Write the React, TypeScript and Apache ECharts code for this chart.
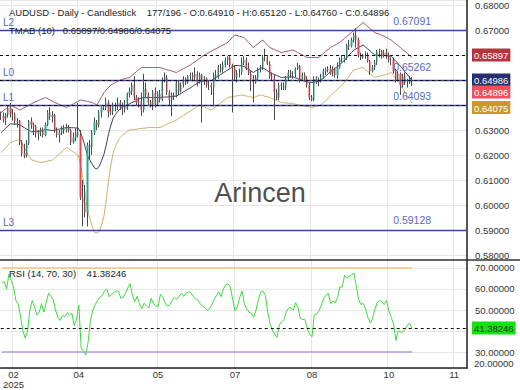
import React, { useEffect, useRef } from 'react';
import * as echarts from 'echarts';

// ---------- data ----------
const firstDate = '2025-02-17';
const totalSlots = 200; // 177 bars + empty future slots

// [open, close, low, high]
const candles: number[][] = [
  [.6355,.6356,.6340,.6374],[.6356,.6345,.6330,.6370],[.6345,.6362,.6320,.6368],[.6362,.6389,.6350,.6396],[.6389,.6362,.6350,.6408],
  [.6362,.6362,.6338,.6385],[.6362,.6334,.6320,.6370],[.6334,.6336,.6310,.6348],[.6336,.6250,.6240,.6340],[.6250,.6207,.6195,.6260],
  [.6207,.6199,.6187,.6245],[.6199,.6246,.6190,.6260],[.6246,.6335,.6240,.6340],[.6335,.6320,.6305,.6350],[.6320,.6315,.6280,.6330],
  [.6315,.6285,.6270,.6320],[.6285,.6290,.6260,.6300],[.6290,.6300,.6275,.6310],[.6300,.6280,.6270,.6310],[.6280,.6320,.6275,.6330],
  [.6320,.6370,.6315,.6380],[.6370,.6352,.6340,.6391],[.6352,.6360,.6330,.6375],[.6360,.6300,.6290,.6365],[.6300,.6280,.6270,.6310],
  [.6280,.6290,.6250,.6300],[.6290,.6305,.6280,.6315],[.6305,.6300,.6285,.6320],[.6300,.6310,.6290,.6325],[.6310,.6300,.6290,.6320],
  [.6300,.6250,.6240,.6305],[.6250,.6270,.6245,.6290],[.6270,.6290,.6255,.6305],[.6290,.6280,.6270,.6408],[.6280,.6030,.6020,.6300],
  [.6030,.6010,.5915,.6100],[.6010,.5970,.5950,.6080],[.5970,.6240,.5914,.6250],[.6240,.6230,.6180,.6260],[.6230,.6290,.6200,.6300],
  [.6290,.6330,.6280,.6350],[.6330,.6320,.6300,.6340],[.6320,.6370,.6310,.6380],[.6370,.6390,.6350,.6395],[.6390,.6390,.6380,.6395],
  [.6390,.6410,.6380,.6430],[.6410,.6370,.6350,.6420],[.6370,.6375,.6360,.6400],[.6375,.6400,.6360,.6410],[.6400,.6400,.6375,.6410],
  [.6400,.6410,.6380,.6430],[.6410,.6390,.6380,.6420],[.6390,.6400,.6360,.6410],
  [.6400,.6385,.6370,.6420],[.6385,.6445,.6380,.6450],[.6445,.6455,.6430,.6470],[.6455,.6480,.6440,.6490],[.6480,.6430,.6420,.6515],
  [.6430,.6410,.6400,.6440],[.6410,.6415,.6390,.6430],[.6415,.6380,.6357,.6450],[.6380,.6465,.6370,.6525],[.6465,.6440,.6430,.6490],
  [.6440,.6410,.6400,.6450],[.6410,.6400,.6390,.6420],[.6400,.6450,.6380,.6460],[.6450,.6405,.6390,.6470],[.6405,.6445,.6400,.6455],
  [.6445,.6420,.6410,.6460],[.6420,.6500,.6415,.6510],[.6500,.6510,.6490,.6530],[.6510,.6450,.6440,.6520],[.6450,.6420,.6400,.6460],
  [.6420,.6440,.6355,.6450],[.6440,.6435,.6420,.6450],
  [.6435,.6490,.6430,.6500],[.6490,.6455,.6440,.6500],[.6455,.6480,.6450,.6490],[.6480,.6505,.6470,.6515],[.6505,.6490,.6480,.6510],
  [.6490,.6515,.6485,.6520],[.6515,.6520,.6500,.6530],[.6520,.6510,.6495,.6530],[.6510,.6525,.6500,.6550],[.6525,.6490,.6475,.6535],
  [.6490,.6520,.6485,.6530],[.6520,.6495,.6330,.6525],[.6495,.6505,.6480,.6515],[.6505,.6480,.6470,.6510],[.6480,.6480,.6460,.6500],
  [.6480,.6470,.6440,.6490],[.6470,.6520,.6395,.6530],[.6520,.6510,.6500,.6540],[.6510,.6550,.6505,.6560],[.6550,.6540,.6530,.6565],
  [.6540,.6560,.6530,.6575],
  [.6560,.6580,.6550,.6590],[.6580,.6590,.6560,.6595],[.6590,.6560,.6550,.6600],[.6560,.6550,.6370,.6565],[.6550,.6510,.6500,.6560],
  [.6510,.6530,.6490,.6540],[.6530,.6530,.6510,.6545],[.6530,.6570,.6520,.6590],[.6570,.6580,.6560,.6595],[.6580,.6545,.6540,.6590],
  [.6545,.6525,.6520,.6570],[.6525,.6505,.6455,.6535],[.6505,.6490,.6410,.6520],[.6490,.6510,.6485,.6520],[.6510,.6540,.6500,.6550],
  [.6540,.6545,.6530,.6560],[.6545,.6590,.6540,.6600],[.6590,.6590,.6575,.6625],[.6590,.6565,.6560,.6600],[.6565,.6515,.6505,.6575],
  [.6515,.6510,.6500,.6530],[.6510,.6450,.6340,.6520],[.6450,.6430,.6420,.6465],
  [.6430,.6480,.6419,.6490],[.6480,.6475,.6460,.6490],[.6475,.6470,.6460,.6490],[.6470,.6505,.6460,.6515],[.6505,.6530,.6500,.6540],
  [.6530,.6525,.6510,.6540],[.6525,.6525,.6505,.6535],[.6525,.6545,.6510,.6550],[.6545,.6555,.6540,.6568],[.6555,.6500,.6490,.6560],
  [.6500,.6520,.6495,.6530],[.6520,.6505,.6495,.6530],[.6505,.6480,.6470,.6515],[.6480,.6430,.6420,.6490],[.6430,.6420,.6415,.6440],
  [.6420,.6505,.6415,.6515],[.6505,.6495,.6485,.6515],[.6495,.6495,.6475,.6510],[.6495,.6510,.6490,.6525],[.6510,.6535,.6505,.6545],
  [.6535,.6540,.6520,.6550],
  [.6540,.6545,.6530,.6555],[.6545,.6525,.6520,.6560],[.6525,.6545,.6515,.6555],[.6545,.6520,.6510,.6550],[.6520,.6550,.6505,.6570],
  [.6550,.6580,.6545,.6590],[.6580,.6580,.6570,.6600],[.6580,.6590,.6570,.6600],[.6590,.6640,.6580,.6645],[.6640,.6635,.6620,.6660],
  [.6635,.6660,.6630,.6670],[.6660,.6680,.6650,.6690],[.6680,.6660,.6630,.6707],[.6660,.6600,.6590,.6670],[.6600,.6590,.6580,.6610],
  [.6590,.6600,.6585,.6605],[.6600,.6600,.6585,.6615],[.6600,.6575,.6570,.6610],[.6575,.6535,.6520,.6580],[.6535,.6550,.6530,.6560],
  [.6550,.6570,.6540,.6580],[.6570,.6615,.6560,.6620],
  [.6615,.6615,.6590,.6625],[.6615,.6595,.6585,.6620],[.6595,.6610,.6590,.6620],[.6610,.6595,.6585,.6625],[.6595,.6580,.6570,.6610],
  [.6580,.6580,.6560,.6590],[.6580,.6535,.6525,.6590],[.6535,.6500,.6490,.6545],[.6500,.6525,.6495,.6535],[.6525,.6480,.6440,.6530],
  [.6480,.6515,.6470,.6525],[.6515,.6490,.6480,.6530],[.6490,.6490,.6470,.6505],[.6490,.6505,.6485,.6515],[.6491,.64896,.6476,.6512],
];

const tmaUpper = [
  .6370,.6378,.6385,.6393,.6400,.6395,.6390,.6385,.6380,.6385,
  .6390,.6395,.6400,.6405,.6410,.6414,.6418,.6422,.6426,.6430,
  .6425,.6420,.6415,.6410,.6406,.6402,.6398,.6394,.6390,.6395,
  .6400,.6405,.6410,.6415,.6420,.6418,.6416,.6414,.6412,.6410,
  .6405,.6400,.6417,.6433,.6450,.6460,.6470,.6480,.6485,.6490,
  .6495,.6500,.6503,.6505,.6508,.6510,.6518,.6526,.6534,.6542,
  .6550,.6550,.6550,.6550,.6550,.6550,.6550,.6550,.6550,.6547,
  .6544,.6541,.6539,.6536,.6533,.6530,.6535,.6540,.6545,.6550,
  .6555,.6560,.6567,.6573,.6580,.6587,.6593,.6600,.6605,.6610,
  .6615,.6620,.6625,.6630,.6635,.6640,.6645,.6650,.6660,.6670,
  .6680,.6678,.6675,.6673,.6670,.6660,.6650,.6640,.6630,.6638,
  .6645,.6653,.6660,.6650,.6640,.6630,.6626,.6622,.6618,.6614,
  .6610,.6612,.6614,.6616,.6618,.6620,.6615,.6610,.6605,.6600,
  .6595,.6590,.6590,.6590,.6590,.6590,.6590,.6598,.6606,.6614,
  .6622,.6630,.6635,.6640,.6645,.6650,.6658,.6666,.6674,.6682,
  .6690,.6698,.6706,.6714,.6722,.6730,.6722,.6714,.6706,.6698,
  .6690,.6686,.6683,.6679,.6675,.6670,.6665,.6660,.6652,.6645,
  .6638,.6630,.6622,.6614,.6606,.6598,.65897,
];

const tmaMid = [
  .6290,.6299,.6308,.6316,.6325,.6324,.6324,.6323,.6320,.6315,
  .6309,.6303,.6298,.6293,.6294,.6295,.6295,.6296,.6299,.6302,
  .6301,.6299,.6298,.6299,.6302,.6304,.6306,.6308,.6310,.6310,
  .6309,.6309,.6308,.6308,.6290,.6264,.6231,.6197,.6179,.6163,
  .6148,.6144,.6156,.6177,.6203,.6240,.6285,.6320,.6348,.6363,
  .6375,.6385,.6392,.6396,.6401,.6405,.6410,.6414,.6419,.6424,
  .6428,.6429,.6429,.6430,.6430,.6430,.6430,.6430,.6430,.6431,
  .6432,.6432,.6433,.6434,.6435,.6435,.6441,.6446,.6452,.6457,
  .6463,.6468,.6475,.6481,.6487,.6494,.6495,.6496,.6497,.6497,
  .6498,.6504,.6510,.6516,.6522,.6528,.6534,.6540,.6546,.6552,
  .6558,.6558,.6557,.6557,.6554,.6548,.6542,.6536,.6530,.6536,
  .6541,.6547,.6549,.6543,.6537,.6530,.6526,.6522,.6518,.6514,
  .6510,.6511,.6511,.6512,.6512,.6513,.6509,.6506,.6502,.6499,
  .6495,.6492,.6491,.6490,.6491,.6493,.6494,.6499,.6508,.6516,
  .6525,.6533,.6540,.6547,.6554,.6561,.6570,.6578,.6589,.6599,
  .6609,.6619,.6625,.6630,.6635,.6640,.6632,.6624,.6616,.6608,
  .6600,.6600,.6599,.6599,.6598,.6597,.6596,.6595,.6585,.6575,
  .6566,.6555,.6544,.6532,.6521,.6510,.64986,
];

const tmaLower = [
  .6210,.6220,.6230,.6240,.6250,.6253,.6257,.6260,.6260,.6245,
  .6228,.6210,.6195,.6180,.6178,.6175,.6172,.6170,.6172,.6174,
  .6176,.6178,.6180,.6188,.6197,.6205,.6213,.6222,.6230,.6225,
  .6218,.6212,.6206,.6200,.6160,.6110,.6045,.5980,.5945,.5915,
  .5890,.5888,.5895,.5920,.5955,.6020,.6100,.6160,.6210,.6235,
  .6255,.6270,.6280,.6287,.6294,.6300,.6301,.6302,.6303,.6305,
  .6306,.6307,.6308,.6310,.6310,.6310,.6310,.6310,.6310,.6314,
  .6319,.6323,.6327,.6331,.6336,.6340,.6346,.6352,.6358,.6364,
  .6370,.6376,.6382,.6388,.6394,.6400,.6396,.6392,.6388,.6384,
  .6380,.6387,.6394,.6401,.6409,.6416,.6423,.6430,.6432,.6433,
  .6435,.6437,.6438,.6440,.6438,.6436,.6434,.6432,.6430,.6433,
  .6437,.6440,.6438,.6435,.6433,.6430,.6426,.6422,.6418,.6414,
  .6410,.6409,.6408,.6407,.6406,.6405,.6403,.6401,.6399,.6397,
  .6395,.6393,.6392,.6390,.6392,.6395,.6397,.6400,.6409,.6418,
  .6427,.6436,.6445,.6454,.6463,.6472,.6481,.6490,.6503,.6515,
  .6528,.6540,.6543,.6545,.6548,.6550,.6542,.6534,.6526,.6518,
  .6510,.6513,.6515,.6518,.6520,.6523,.6527,.6530,.6518,.6505,
  .6493,.6480,.6465,.6450,.6435,.6421,.64075,
];

const rsi = [
  63,63.5,60,67,64,61,54.5,53,47,40,
  36.6,40,50,54.5,51.5,47.6,49,53,49,53.5,
  58,56.5,55,50,46.5,45,47.5,46.8,48.7,47.6,
  48.5,42.5,45.5,52.4,32,30.5,28.5,35,45,50,
  52.5,54.5,56,57,59,59.9,56.3,57.5,58.2,59,
  59,55.6,56,58,60.5,62.5,57,54,56.5,53,
  50.5,53.2,52,51,55.6,53,52,51.6,57.5,56,
  53.5,51.8,52.5,54.5,56,55,56.5,58,56.5,58,
  58.7,58.2,56.5,55.4,54.9,53,52,51.2,49.8,50.5,
  52.4,54.8,57,58.7,56.3,60,62,62.4,61,55,
  49.5,51.5,56,59,53,50.5,49,48.4,46.5,50,
  55,58.5,59,57,49,43.5,40.5,38.5,37,43,
  44.2,45.5,49,51,51,50,53.5,51,46,45.5,
  45.5,41,38.5,37.3,47.6,48,49.5,52.4,55.5,57,
  58,53,54.3,53.5,56,61,61,66.5,65.3,65.9,
  66.8,67.5,61.5,55,52.6,53.2,50.5,46.5,43.8,46,
  50.5,53.5,54.5,54,52.6,54.5,49.5,46.5,43.5,35.5,
  40.2,39.5,39.5,40.8,43,43.5,41.38246,
];

const tickIndex = [5, 33, 67, 100, 133, 166, 194];
const tickLabels = ['02\n2025', '04', '05', '07', '08', '10', '11'];

const levelValues = [0.67091, 0.65262, 0.64093, 0.59128];
const levelNames = ['L2', 'L0', 'L1', 'L3'];
const priceMarks = [0.65897, 0.64986, 0.64896, 0.64075];
const priceMarkColors = ['#b8333d', '#27306e', '#ef5059', '#c99a2a'];
const priceMarkShift = [0, 0, 24, 5]; // badges pushed down to avoid overlap
const rsiValue = 41.38246;
const rsiLevels = [70, 30];
const rsiBottomLabel = '20.00000'; // clamped bottom tick text of the RSI scale
const hiddenPriceTicks = [0.64, 0.65, 0.66];
const hiddenRsiTicks = [40];

const headerText = 'AUDUSD - Daily - Candlestick    177/196 - O:0.64910 - H:0.65120 - L:0.64760 - C:0.64896';
const tmaText = 'TMAB (10)   0.65897/0.64986/0.64075';
const rsiText = 'RSI (14, 70, 30)    41.38246';
const watermark = 'Arincen';

// ---------- helpers ----------
function weekdayDates(start: string, count: number): string[] {
  const out: string[] = [];
  const d = new Date(start + 'T00:00:00Z');
  while (out.length < count) {
    const wd = d.getUTCDay();
    if (wd !== 0 && wd !== 6) out.push(d.toISOString().slice(0, 10));
    d.setUTCDate(d.getUTCDate() + 1);
  }
  return out;
}

const FONT = "'Liberation Sans', Arial, sans-serif";
const levelColor = '#3a44a0';
const levelTextColor = '#5a69c2';
const gridColor = '#e6e6e6';

function badgeLabel(text: string, bg: string, fg: string, shift: number) {
  return {
    show: true, position: 'end', distance: 5,
    formatter: `{b|${text}}`,
    padding: [shift, 0, 0, 0],
    rich: { b: { backgroundColor: bg, color: fg, padding: [2, 2, 1, 2], fontSize: 9.5, fontFamily: FONT } },
  };
}

function buildOption() {
  const dates = weekdayDates(firstDate, totalSlots);
  const last = candles.length - 1;
  const showTick = (i: number) => tickIndex.includes(i);

  return {
    animation: false,
    backgroundColor: '#ffffff',
    textStyle: { fontFamily: FONT },
    title: {
      text: rsiBottomLabel, left: 474, top: 358, padding: 0, itemGap: 0,
      textStyle: { color: '#333', fontSize: 9.5, fontWeight: 'normal', fontFamily: FONT },
    },
    grid: [
      { left: 0, right: 53, top: 0, height: 260 },
      { left: 0, right: 53, top: 260, height: 108 },
    ],
    xAxis: [
      {
        type: 'category', gridIndex: 0, data: dates, boundaryGap: true,
        axisLine: { show: false }, axisTick: { show: false }, axisLabel: { show: false },
        splitLine: { show: true, interval: (i: number) => showTick(i), lineStyle: { color: gridColor } },
      },
      {
        type: 'category', gridIndex: 1, data: dates, boundaryGap: true,
        axisLine: { show: true, lineStyle: { color: '#222', width: 1.5 } },
        axisTick: { show: false },
        axisLabel: {
          interval: (i: number) => showTick(i),
          formatter: (_v: string, i: number) => {
            const k = tickIndex.indexOf(i);
            return k >= 0 ? tickLabels[k] : '';
          },
          color: '#333', fontSize: 9.5, margin: 2, lineHeight: 9.5, fontFamily: FONT,
        },
        splitLine: { show: true, interval: (i: number) => showTick(i), lineStyle: { color: gridColor } },
      },
    ],
    yAxis: [
      {
        type: 'value', gridIndex: 0, position: 'right', min: 0.578, max: 0.682, splitNumber: 10,
        axisLine: { show: true, lineStyle: { color: '#222', width: 1.5 } },
        axisTick: { show: false },
        splitLine: { show: true, lineStyle: { color: gridColor } },
        axisLabel: {
          showMinLabel: false, showMaxLabel: false, hideOverlap: false,
          formatter: (v: number) => (hiddenPriceTicks.some((h) => Math.abs(h - v) < 1e-6) ? '' : v.toFixed(5)),
          color: '#333', fontSize: 9.5, margin: 8, fontFamily: FONT,
        },
      },
      {
        type: 'value', gridIndex: 1, position: 'right', min: 22.4, max: 73.8, splitNumber: 5,
        axisLine: { show: true, lineStyle: { color: '#222', width: 1.5 } },
        axisTick: { show: false },
        splitLine: { show: true, lineStyle: { color: gridColor } },
        axisLabel: {
          showMinLabel: false, showMaxLabel: false, hideOverlap: false,
          formatter: (v: number) => (hiddenRsiTicks.some((h) => Math.abs(h - v) < 1e-6) ? '' : v.toFixed(5)),
          color: '#333', fontSize: 9.5, margin: 8, fontFamily: FONT,
        },
      },
    ],
    series: [
      {
        name: 'TMA upper', type: 'line', xAxisIndex: 0, yAxisIndex: 0, data: tmaUpper,
        showSymbol: false, silent: true, z: 2,
        lineStyle: { color: '#a4566b', width: 1 },
        markLine: {
          silent: true, symbol: ['none', 'none'], animation: false,
          label: { show: false },
          data: [
            ...levelValues.map((v, i) => ({
              yAxis: v,
              lineStyle: { color: levelColor, width: 1.3, type: 'solid' },
              label: {
                show: true, position: 'insideStartTop', formatter: levelNames[i],
                color: levelTextColor, fontSize: 10, distance: 3, fontFamily: FONT,
              },
            })),
            ...priceMarks.map((v, i) => ({
              yAxis: v,
              lineStyle: { color: '#111', width: 1, type: [3, 3] },
              label: badgeLabel(v.toFixed(5), priceMarkColors[i], '#ffffff', priceMarkShift[i]),
            })),
          ],
        },
        markPoint: {
          silent: true, symbol: 'circle', symbolSize: 0, animation: false,
          data: levelValues.map((v) => ({ coord: [dates[last], v], value: v })),
          label: {
            show: true, position: 'top', distance: 1,
            formatter: (p: any) => Number(p.value).toFixed(5),
            color: levelTextColor, fontSize: 10.5, fontFamily: FONT,
          },
        },
      },
      {
        name: 'TMA mid', type: 'line', xAxisIndex: 0, yAxisIndex: 0, data: tmaMid,
        showSymbol: false, silent: true, z: 2, lineStyle: { color: '#3c3f5c', width: 1 },
      },
      {
        name: 'TMA lower', type: 'line', xAxisIndex: 0, yAxisIndex: 0, data: tmaLower,
        showSymbol: false, silent: true, z: 2, lineStyle: { color: '#c9b46c', width: 1 },
      },
      {
        name: 'wicks', type: 'candlestick', xAxisIndex: 0, yAxisIndex: 0, data: candles,
        barWidth: 1, silent: true, z: 3,
        itemStyle: { color: '#4a4a4a', color0: '#4a4a4a', borderColor: '#4a4a4a', borderColor0: '#4a4a4a', borderWidth: 1 },
      },
      {
        name: 'AUDUSD', type: 'candlestick', xAxisIndex: 0, yAxisIndex: 0, data: candles,
        barWidth: 1.7, silent: true, z: 4,
        itemStyle: { color: '#2aa88a', color0: '#e8464f', borderColor: '#2aa88a', borderColor0: '#e8464f', borderWidth: 0 },
      },
      {
        name: 'RSI', type: 'line', xAxisIndex: 1, yAxisIndex: 1, data: rsi,
        showSymbol: false, silent: true, z: 3, lineStyle: { color: '#3fd83f', width: 1 },
        markLine: {
          silent: true, symbol: ['none', 'none'], animation: false,
          label: { show: false },
          data: [
            [
              { coord: [dates[0], rsiLevels[0]], lineStyle: { color: '#f2c47e', width: 1.5, type: 'solid' } },
              { coord: [dates[last], rsiLevels[0]] },
            ],
            [
              { coord: [dates[0], rsiLevels[1]], lineStyle: { color: '#b49ae0', width: 1.5, type: 'solid' } },
              { coord: [dates[last], rsiLevels[1]] },
            ],
            {
              yAxis: rsiValue,
              lineStyle: { color: '#111', width: 1, type: [3, 3] },
              label: badgeLabel(rsiValue.toFixed(5), '#11e311', '#113311', 0),
            },
          ],
        },
      },
    ],
    graphic: [
      {
        type: 'text', left: 'center', top: 179, z: 0, silent: true,
        style: { text: watermark, fill: '#4f4f4f', font: `27px ${FONT}` },
      },
      {
        type: 'text', x: 9, y: 12, z: 10, silent: true,
        style: { text: headerText, fill: '#222', font: `9.5px ${FONT}`, textVerticalAlign: 'middle' },
      },
      {
        type: 'text', x: 9, y: 30, z: 10, silent: true,
        style: { text: tmaText, fill: '#222', font: `9.5px ${FONT}`, textVerticalAlign: 'middle' },
      },
      {
        type: 'text', x: 9, y: 273, z: 10, silent: true,
        style: { text: rsiText, fill: '#222', font: `9.5px ${FONT}`, textVerticalAlign: 'middle' },
      },
      {
        type: 'line', z: 10, silent: true,
        shape: { x1: 0, y1: 260, x2: 520, y2: 260 },
        style: { stroke: '#333', lineWidth: 1.5 },
      },
    ],
  };
}

export default function App() {
  const ref = useRef<HTMLDivElement>(null);
  useEffect(() => {
    document.body.style.margin = '0';
    if (!ref.current) return;
    const chart = echarts.init(ref.current, null, { renderer: 'svg' });
    chart.setOption(buildOption() as any);
    return () => chart.dispose();
  }, []);
  return <div ref={ref} style={{ position: 'fixed', left: 0, top: 0, width: 520, height: 390, background: '#fff' }} />;
}
